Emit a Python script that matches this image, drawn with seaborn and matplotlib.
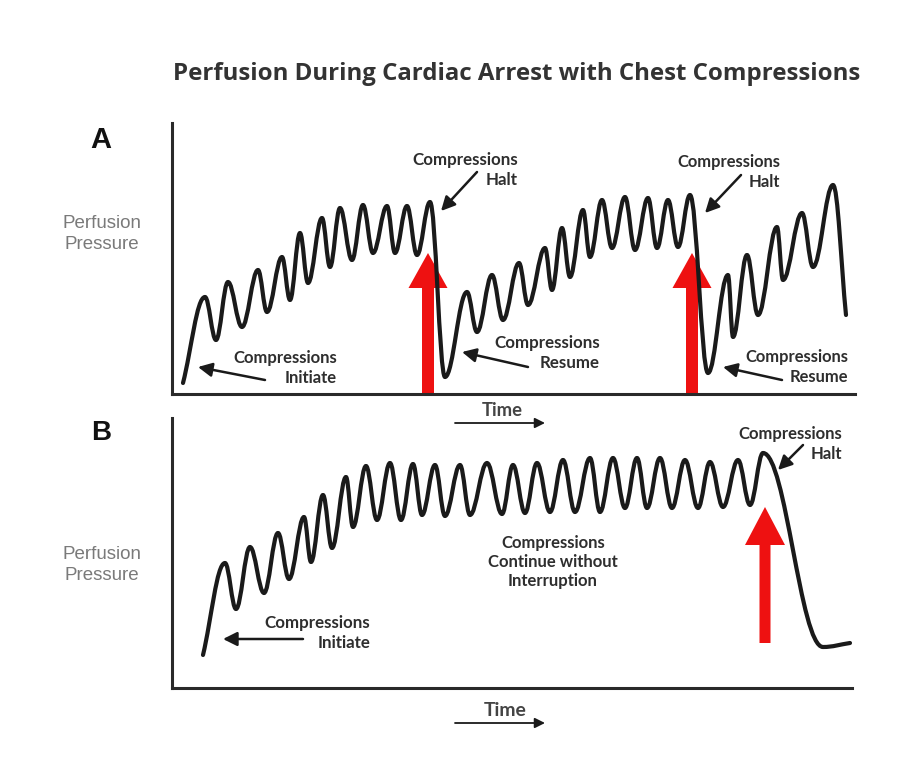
import seaborn as sns
import matplotlib.pyplot as plt
from matplotlib.path import Path
from matplotlib.patches import PathPatch

# turning points of the pressure trace, panel A (time, pressure in arbitrary units)
a_time = [11, 33, 44, 56, 70, 86, 95, 110, 118, 128, 136, 150, 158, 168, 180, 191, 201, 215, 223, 235, 245, 258,
          273, 295, 305, 320, 331, 347, 356, 373, 380, 390, 398, 411, 418, 430, 440, 453, 463, 476, 485, 496, 506, 518,
          536, 556, 561, 575, 586, 605, 611, 630, 641, 661, 674]
a_pressure = [11, 97, 54, 112, 67, 124, 82, 137, 94, 161, 111, 176, 127, 186, 134, 189, 141, 188, 141, 188, 139, 192,
              17, 102, 62, 119, 74, 131, 89, 146, 104, 166, 117, 184, 137, 194, 146, 197, 144, 196, 146, 194, 147, 199,
              21, 119, 57, 139, 79, 167, 114, 181, 127, 209, 79]

# panel B: uninterrupted compressions
b_time = [31, 53, 64, 78, 92, 106, 117, 132, 139, 151, 160, 174, 181, 194, 205, 218, 229, 241, 250, 263, 273, 288,
          298, 315, 330, 341, 353, 365, 378, 391, 403, 418, 428, 441, 453, 465, 475, 488, 500, 513, 526, 538, 551,
          566, 578, 591, 651, 678]
b_pressure = [33, 125, 79, 141, 95, 155, 109, 171, 126, 193, 140, 211, 161, 222, 168, 225, 168, 224, 173, 223, 172,
              223, 173, 225, 174, 223, 175, 225, 176, 228, 176, 230, 176, 230, 180, 230, 180, 230, 180, 228, 180, 226,
              181, 228, 183, 235, 41, 45]

# red "compressions halt" markers
a_halt_time = [256, 520]
a_halt_tip = [141, 141]
b_halt_time = [593]
b_halt_tip = [181]
b_halt_base = [45]

RED = '#ee1111'
INK = '#1a1a1a'
TXT = '#2e2e2e'

sns.set_theme(style='white')
plt.rcParams['font.family'] = ['Lato', 'DejaVu Sans']

W, H = 921, 768
fig = plt.figure(figsize=(W / 100, H / 100), dpi=100)


def panel(left, top, right, bottom):
    return fig.add_axes([left / W, 1 - bottom / H, (right - left) / W, (bottom - top) / H])


def smooth_trace(ax, x, y, k=0.38):
    # cubic segments with flat tangents at each turning point
    verts = [(x[0], y[0])]
    codes = [Path.MOVETO]
    n = len(x)
    for i in range(n - 1):
        dx = x[i + 1] - x[i]
        dy = y[i + 1] - y[i]
        c1 = (x[i] + k * dx, y[i] + (k * dy if i == 0 else 0))
        c2 = (x[i + 1] - k * dx, y[i + 1] - (k * dy if i == n - 2 else 0))
        verts += [c1, c2, (x[i + 1], y[i + 1])]
        codes += [Path.CURVE4] * 3
    ax.add_patch(PathPatch(Path(verts, codes), fill=False, lw=3.0, edgecolor=INK,
                           capstyle='round', joinstyle='round', zorder=3))


ax_a = panel(172, 123, 855, 394)
ax_b = panel(172, 418, 852, 688)
ax_a.set(xlim=(0, 683), ylim=(0, 271))
ax_b.set(xlim=(0, 680), ylim=(0, 270))

for ax in (ax_a, ax_b):
    sns.despine(ax=ax)
    for side in ('left', 'bottom'):
        ax.spines[side].set_linewidth(2.2)
        ax.spines[side].set_color('#2a2a2a')
    ax.set_xticks([])
    ax.set_yticks([])
    ax.set_facecolor('none')

smooth_trace(ax_a, a_time, a_pressure)
smooth_trace(ax_b, b_time, b_pressure)

for t, tip in zip(a_halt_time, a_halt_tip):
    ax_a.arrow(t, 0, 0, tip, width=12, head_width=39, head_length=35,
               length_includes_head=True, color=RED, lw=0, clip_on=False, zorder=2)
for t, tip, base in zip(b_halt_time, b_halt_tip, b_halt_base):
    ax_b.arrow(t, base, 0, tip - base, width=11, head_width=40, head_length=38,
               length_includes_head=True, color=RED, lw=0, clip_on=False, zorder=2)

# overlay in image pixels for labels and pointers
ov = fig.add_axes([0, 0, 1, 1], zorder=5)
ov.set(xlim=(0, W), ylim=(H, 0))
ov.axis('off')
ov.patch.set_alpha(0)

renderer = fig.canvas.get_renderer()


def label(x, y, s, width, ha='center', **kw):
    style = dict(fontsize=11, color=TXT, fontweight='bold', va='center', ha=ha, multialignment=ha,
                 linespacing=1.25)
    style.update(kw)
    t = ov.text(x, y, s, **style)
    w = t.get_window_extent(renderer).width
    t.set_fontsize(t.get_fontsize() * width / w)
    return t


def pointer(x0, y0, x1, y1, lw=1.8, head=0.35):
    ov.annotate('', xy=(x1, y1), xytext=(x0, y0),
                arrowprops=dict(arrowstyle=f'-|>,head_width={head},head_length={head * 2}',
                                lw=lw, color=INK, shrinkA=0, shrinkB=0))


label(517, 74, 'Perfusion During Cardiac Arrest with Chest Compressions', 689, family='Open Sans',
      color='#333333')

label(101, 140, 'A', 21, family='Liberation Sans', color='#111111')
label(101, 433, 'B', 20, family='Liberation Sans', color='#111111')
label(102, 234, 'Perfusion\nPressure', 79, family='Liberation Sans', fontweight='normal', color='#7a7a7a')
label(102, 565, 'Perfusion\nPressure', 79, family='Liberation Sans', fontweight='normal', color='#7a7a7a')

label(518, 170, 'Compressions\nHalt', 105, ha='right')
pointer(477, 172, 441, 211)
label(780, 172, 'Compressions\nHalt', 103, ha='right')
pointer(741, 175, 705, 213)
label(337, 368, 'Compressions\nInitiate', 104, ha='right')
pointer(265, 380, 198, 367)
label(600, 353, 'Compressions\nResume', 105, ha='right')
pointer(528, 367, 462, 352)
label(848, 367, 'Compressions\nResume', 103, ha='right')
pointer(782, 380, 723, 367)

label(370, 633, 'Compressions\nInitiate', 105, ha='right')
pointer(303, 639, 223, 639)
label(553, 562, 'Compressions\nContinue without\nInterruption', 130)
label(842, 444, 'Compressions\nHalt', 104, ha='right')
pointer(803, 445, 778, 470)

label(502, 410, 'Time', 41, color='#444444')
pointer(455, 423, 545, 423, lw=1.3, head=0.25)
label(505, 710, 'Time', 43, color='#444444')
pointer(455, 723, 545, 723, lw=1.3, head=0.25)

fig.savefig('out.png', dpi=100, facecolor='white')
